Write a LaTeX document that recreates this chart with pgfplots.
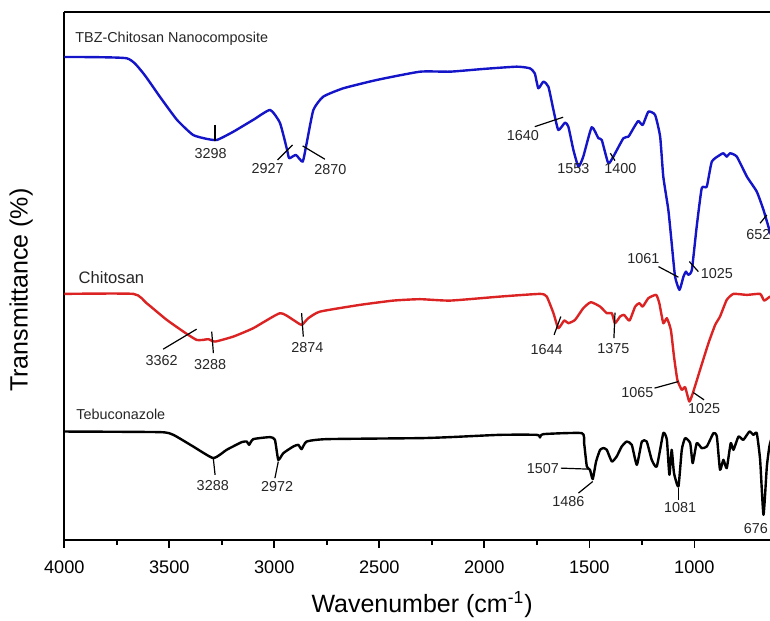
\documentclass[border=0pt]{standalone}
\usepackage{fontspec}
\setmainfont{Liberation Sans}
\usepackage{pgfplots}
\pgfplotsset{compat=1.18}
\definecolor{tbzblue}{RGB}{20,20,200}
\definecolor{chired}{RGB}{220,35,35}

% spectra: wavenumber (cm^-1), transmittance (offset, arbitrary units)
\pgfplotstableread{
w T
4000 483
3703 481.7
3625 467
3544 443
3463 420
3387 405
3320 401
3273 400
3197 408
3101 420
3020 430
2973 417
2939 390
2929 381.7
2897 385
2865 378.3
2846 396.7
2814 430
2767 443.3
2671 451.7
2512 460
2306 468.3
2163 468.3
2006 471
1846 473.3
1784 471.7
1760 466.7
1743 451.7
1719 458.3
1695 453.3
1671 430
1648 410
1616 417.3
1600 413.3
1576 390
1552 373.3
1529 383.3
1489 412.7
1457 401.7
1441 400
1410 376.7
1386 383.3
1338 401.7
1314 403.3
1290 411.7
1267 419
1246 415
1219 428.3
1187 425
1163 403.3
1148 363.3
1124 330
1108 296.7
1092 263.3
1071 250
1052 263.3
1040 268.3
1029 265
1012 270
989 313.3
965 351.7
941 353.3
917 378.3
878 385
862 386.7
846 383.3
830 386.7
798 383.3
750 363.3
703 348.3
671 330
643 310
635 305
}\tbz

\pgfplotstableread{
w T
4000 246
3671 246
3608 236.7
3512 220
3417 206
3370 200
3338 200
3314 200.7
3282 198.3
3195 203.3
3100 211.7
2973 226.7
2910 220
2870 215
2838 221.7
2782 228.3
2592 235
2433 239.3
2306 240.7
2163 239.3
1925 243.3
1735 246
1703 243.3
1671 226.7
1648 211.7
1620 219.3
1600 216.7
1568 220
1529 231.7
1493 237.7
1449 233.3
1417 226.7
1393 226.7
1378 216.7
1354 223.3
1335 225
1309 219.3
1282 233.3
1262 236.7
1246 233.3
1219 241.7
1182 245
1167 236.7
1148 216.7
1131 221.7
1112 210
1097 183.3
1081 160
1060 150
1044 152.7
1024 138.3
1005 148.3
973 170
933 196.7
901 215
878 223.3
846 240
814 246
750 245
687 246
668 239.3
640 243.3
635 242
}\chi

\pgfplotstableread{
w T
4000 108.3
3544 107.7
3481 105
3386 93.3
3290 81.7
3227 90
3155 97.7
3131 98.3
3120 95
3100 100.7
3020 102.7
2997 100
2981 80
2957 86.7
2910 93.3
2886 95
2870 90.7
2846 98.3
2750 100.7
2306 101.7
2163 102.7
1925 105
1750 105
1735 102.3
1719 105.7
1536 106.7
1525 96.7
1512 73.3
1497 70
1484 60.7
1468 78.3
1449 90
1433 91.7
1417 90
1393 78.3
1370 83.3
1346 93.3
1322 98.3
1298 95
1274 75
1250 98.3
1227 98.3
1203 80
1179 73.3
1148 106.7
1131 100
1119 65
1108 90
1097 66.7
1076 53.3
1060 90
1044 101.7
1020 96.7
1008 76.7
989 96.7
965 91.7
941 93.3
909 106.7
893 103.3
878 70
862 80
846 71.7
827 96.7
814 90
790 103.3
767 100
738 108.3
719 105
703 106.7
687 80
671 25
655 73.3
643 93.3
635 100
}\tebu

\begin{document}
\begin{tikzpicture}[
  ann/.style={black, line width=0.6pt},
  lab/.style={font=\fontsize{7.2}{8}\selectfont, inner sep=0pt, text=black!85}
]
\begin{axis}[
  scale only axis, width=353pt, height=264pt,
  x dir=reverse, xmin=640, xmax=4000, ymin=0, ymax=528,
  axis x line*=box, axis y line*=left,
  axis line style={-, line width=0.85pt},
  xtick={1000,1500,...,4000}, minor x tick num=1, ytick=\empty,
  xtick pos=bottom, tick align=outside,
  major tick length=4pt, minor tick length=2.5pt,
  tick style={line width=0.85pt, black},
  xticklabel style={font=\fontsize{9.1}{11}\selectfont, yshift=-3pt},
  /pgf/number format/assume math mode=true,
  /pgf/number format/1000 sep={},
  xlabel={Wavenumber (cm\textsuperscript{-1})},
  ylabel={Transmittance (\%)},
  every axis x label/.style={at={(axis description cs:0.507,-0.123)}, anchor=center, font=\fontsize{12.5}{15}\selectfont},
  every axis y label/.style={at={(axis description cs:-0.061,0.473)}, anchor=center, rotate=90, font=\fontsize{12.5}{15}\selectfont},
]
\addplot[tbzblue, line width=1.2pt, line join=round, smooth, tension=0.3] table[x=w, y=T] {\tbz};
\addplot[chired, line width=1.2pt, line join=round, smooth, tension=0.3] table[x=w, y=T] {\chi};
\addplot[black, line width=1.2pt, line join=round, smooth, tension=0.3] table[x=w, y=T] {\tebu};

% series names
\node[lab, anchor=west] at (3949,501.7) {TBZ-Chitosan Nanocomposite};
\node[lab, anchor=west, font=\fontsize{8.3}{9}\selectfont] at (3933,262.7) {Chitosan};
\node[lab, anchor=west] at (3944,125) {Tebuconazole};

% TBZ-Chitosan peaks
\draw[ann] (3282,415) -- (3282,399);  \node[lab] at (3303,386.7) {3298};
\draw[ann] (2984,380) -- (2913,395);  \node[lab] at (3032,371.7) {2927};
\draw[ann] (2865,394) -- (2759,380.7); \node[lab] at (2733,370.7) {2870};
\draw[ann] (1760,413.3) -- (1625,422.7); \node[lab] at (1816,404) {1640};
\node[lab] at (1576,371.7) {1553};
\draw[ann] (1400,386.7) -- (1378,379.3); \node[lab] at (1352,371.7) {1400};
\draw[ann] (1171,273.3) -- (1076,262.7); \node[lab] at (1243,281.7) {1061};
\draw[ann] (1024,278.3) -- (981,268.3); \node[lab] at (893,266) {1025};
\draw[ann] (687,316.7) -- (655,325); \node[lab] at (695,305) {652};

% Chitosan peaks
\draw[ann] (3529,190.7) -- (3370,210.7); \node[lab] at (3536,179.3) {3362};
\draw[ann] (3298,208.3) -- (3290,186.7); \node[lab] at (3306,175.7) {3288};
\draw[ann] (2870,226.7) -- (2862,203.3); \node[lab] at (2843,192.7) {2874};
\draw[ann] (1636,223.3) -- (1668,205); \node[lab] at (1703,190.7) {1644};
\draw[ann] (1378,227.3) -- (1383,201.7); \node[lab] at (1386,191.7) {1375};
\draw[ann] (1190,151.7) -- (1076,158.3); \node[lab] at (1271,147.3) {1065};
\draw[ann] (1005,147.3) -- (954,140); \node[lab] at (954,131.7) {1025};

% Tebuconazole peaks
\draw[ann] (3290,80.7) -- (3282,65); \node[lab] at (3293,54) {3288};
\draw[ann] (2981,78.3) -- (2997,61.7); \node[lab] at (2986,53.3) {2972};
\draw[ann] (1636,71.7) -- (1505,70.7); \node[lab, anchor=east] at (1643,71) {1507};
\draw[ann] (1552,46.7) -- (1484,58.3); \node[lab] at (1600,38.3) {1486};
\draw[ann] (1076,51.7) -- (1076,40); \node[lab] at (1068,32.7) {1081};
\node[lab, anchor=east] at (648,11.7) {676};

\coordinate (BL) at (axis cs:4306,-81);
\coordinate (TR) at (axis cs:640,540);
\end{axis}
\pgfresetboundingbox
\useasboundingbox (BL) rectangle (TR);
\end{tikzpicture}
\end{document}
